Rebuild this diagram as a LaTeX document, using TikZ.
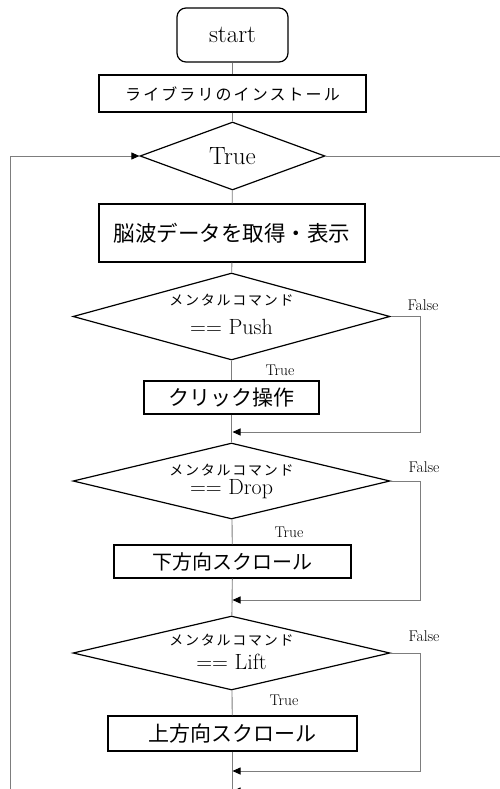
\documentclass[tikz,border=0pt]{standalone}
\usepackage{fontspec}
\newfontfamily\jp{Noto Sans CJK JP}
\newfontfamily\jpw[LetterSpace=13]{Noto Sans CJK JP}
\usetikzlibrary{shapes.geometric,arrows.meta}
\definecolor{ln}{RGB}{125,125,125}
\begin{document}
\begin{tikzpicture}[x=1pt,y=-1pt,
  shp/.style={draw=black,line width=1.2pt},
  box/.style={shp,rectangle,inner sep=0pt},
  dia/.style={shp,diamond,inner sep=0pt},
  conn/.style={draw=ln,line width=0.9pt},
  arr/.style={-{Triangle[length=8pt,width=7pt,color=black]}},
  lbl/.style={inner sep=0pt,font=\fontsize{15.5}{15.5}\selectfont},
  jpbig/.style={font=\jp\fontsize{21}{21}\selectfont},
  cmd/.style={inner sep=0pt,font=\jpw\fontsize{14}{14}\selectfont},
  eq/.style={inner sep=0pt,font=\fontsize{22}{22}\selectfont}
]
\path[use as bounding box] (0,0) rectangle (500,789);
\clip (0,0) rectangle (500,789);

\node[box,rounded corners=9pt,minimum width=111pt,minimum height=54pt,font=\fontsize{25}{25}\selectfont] (start) at (232.5,35) {start};
\node[box,minimum width=267pt,minimum height=37pt,font=\jpw\fontsize{16}{16}\selectfont] (lib) at (232.5,93.5) {ライブラリのインストール};
\node[dia,minimum width=185pt,minimum height=68pt] (loop) at (232.5,156) {};
\node[inner sep=0pt,font=\fontsize{25}{25}\selectfont] (loopt) at (232.5,156) {True};
\node[box,minimum width=266pt,minimum height=58pt,jpbig,font=\jp\fontsize{21.5}{21.5}\selectfont] (eeg) at (232,233) {脳波データを取得・表示};

\node[dia,minimum width=317pt,minimum height=87pt] (push) at (231.5,316.5) {};
\node[cmd] (pusht1) at (231.5,300) {メンタルコマンド};
\node[eq] (pusht2) at (231.5,327) {== Push};
\node[box,minimum width=175pt,minimum height=33pt,jpbig] (click) at (231.5,397.5) {クリック操作};

\node[dia,minimum width=317pt,minimum height=76pt] (drop) at (231.5,481) {};
\node[cmd] (dropt1) at (231.5,470) {メンタルコマンド};
\node[eq] (dropt2) at (231.5,489) {== Drop};
\node[box,minimum width=237pt,minimum height=33pt,font=\jp\fontsize{20}{20}\selectfont] (down) at (232.5,561.5) {下方向スクロール};

\node[dia,minimum width=317pt,minimum height=74pt] (lift) at (231.5,653) {};
\node[cmd] (liftt1) at (231.5,640) {メンタルコマンド};
\node[eq] (liftt2) at (231.5,662) {== Lift};
\node[box,minimum width=249pt,minimum height=35pt,jpbig] (up) at (232.5,733.5) {上方向スクロール};

\node[lbl] (pushF) at (423,305) {False};
\node[lbl] (dropF) at (424,467) {False};
\node[lbl] (liftF) at (424,636) {False};
\node[lbl] (pushT) at (280,370) {True};
\node[lbl] (dropT) at (289,532) {True};
\node[lbl] (liftT) at (284,700) {True};

\coordinate (m1) at (232.5,432);
\coordinate (m2) at (232.5,600);
\coordinate (m3) at (232.5,771);
\coordinate (m4) at (232.5,791);
\coordinate (f1) at (420,432);
\coordinate (f2) at (420,600);
\coordinate (f3) at (420,771);
\coordinate (f4) at (420,791);
\coordinate (bot) at (232.5,800);
\coordinate (lbot) at (10,800);
\coordinate (rend) at (510,156);

\draw[conn] (start) -- (lib);
\draw[conn] (lib) -- (loop);
\draw[conn] (loop) -- (eeg);
\draw[conn] (eeg) -- (push);
\draw[conn] (push) -- (click);
\draw[conn] (click) -- (drop);
\draw[conn] (drop) -- (down);
\draw[conn] (down) -- (lift);
\draw[conn] (lift) -- (up);
\draw[conn] (up) -- (bot);

\draw[conn,arr] (push.east) -| (f1) -- (m1);
\draw[conn,arr] (drop.east) -| (f2) -- (m2);
\draw[conn,arr] (lift.east) -| (f3) -- (m3);
\draw[conn,arr] (f4) -- (m4);

\draw[conn,arr] (lbot) |- (loop.west);
\draw[conn] (loop.east) -- (rend);
\end{tikzpicture}
\end{document}
